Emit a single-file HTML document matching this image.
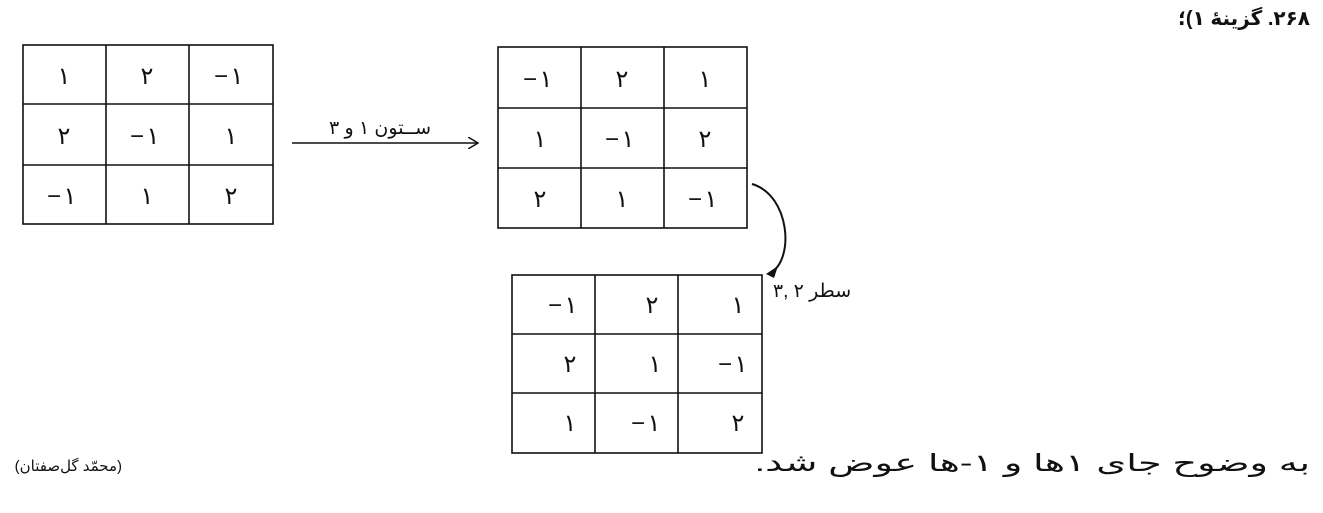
<!DOCTYPE html>
<html><head><meta charset="utf-8"><style>
body{margin:0;background:#fff;}
svg{display:block}
text{font-family:"Liberation Sans","DejaVu Sans",sans-serif;fill:#111;}
</style></head><body>
<svg width="1323" height="513" viewBox="0 0 1323 513" xmlns="http://www.w3.org/2000/svg">
<defs>
<marker id="ah" markerWidth="12" markerHeight="12" refX="10" refY="6" orient="auto" markerUnits="userSpaceOnUse">
<path d="M0,0 L10,6 L0,12" fill="none" stroke="#111" stroke-width="1.5"/>
</marker>
</defs>
<g stroke="#111" stroke-width="1.6" fill="none">
<rect x="23" y="45" width="250" height="179"/>
<line x1="106" y1="45" x2="106" y2="224"/><line x1="189" y1="45" x2="189" y2="224"/>
<line x1="23" y1="104" x2="273" y2="104"/><line x1="23" y1="165" x2="273" y2="165"/>
<rect x="498" y="47" width="249" height="181"/>
<line x1="581" y1="47" x2="581" y2="228"/><line x1="664" y1="47" x2="664" y2="228"/>
<line x1="498" y1="108" x2="747" y2="108"/><line x1="498" y1="168" x2="747" y2="168"/>
<rect x="512" y="275" width="250" height="178"/>
<line x1="595" y1="275" x2="595" y2="453"/><line x1="678" y1="275" x2="678" y2="453"/>
<line x1="512" y1="334" x2="762" y2="334"/><line x1="512" y1="393" x2="762" y2="393"/>
<line x1="292" y1="143" x2="478" y2="143" marker-end="url(#ah)"/>
<path d="M752,184 C790,195 795,260 770,273" stroke-width="2"/>
</g>
<path d="M766,274 L778,266 L774,278 Z" fill="#111"/>
<g font-size="24" text-anchor="middle">
<text x="64" y="84">۱</text><text x="147" y="84">۲</text><text x="237" y="84">۱</text><text x="221" y="84">−</text>
<text x="64" y="144">۲</text><text x="153" y="144">۱</text><text x="137" y="144">−</text><text x="231" y="144">۱</text>
<text x="70" y="204">۱</text><text x="54" y="204">−</text><text x="147" y="204">۱</text><text x="231" y="204">۲</text>

<text x="546" y="87">۱</text><text x="530" y="87">−</text><text x="622" y="87">۲</text><text x="705" y="87">۱</text>
<text x="540" y="147">۱</text><text x="628" y="147">۱</text><text x="612" y="147">−</text><text x="705" y="147">۲</text>
<text x="540" y="207">۲</text><text x="622" y="207">۱</text><text x="711" y="207">۱</text><text x="695" y="207">−</text>

<text x="571" y="313">۱</text><text x="555" y="313">−</text><text x="652" y="313">۲</text><text x="738" y="313">۱</text>
<text x="570" y="372">۲</text><text x="655" y="372">۱</text><text x="741" y="372">۱</text><text x="725" y="372">−</text>
<text x="570" y="431">۱</text><text x="654" y="431">۱</text><text x="638" y="431">−</text><text x="738" y="431">۲</text>
</g>
<g font-size="19">
<text x="380" y="134" text-anchor="middle" direction="rtl">ســتون ۱ و ۳</text>
<text x="812" y="297" text-anchor="middle" direction="rtl">سطر ۲ ,۳</text>
<text x="1310" y="25" direction="rtl" font-weight="bold" font-size="20">۲۶۸. گزینهٔ ۱)؛</text>
<text x="0" y="0" direction="rtl" font-size="24" transform="translate(1310,471) scale(1.6,1)">به وضوح جای ۱ها و ۱-ها عوض شد.</text>
<text x="122" y="471" direction="rtl" font-size="15">(محمّد گل‌صفتان)</text>
</g>
</svg>
</body></html>
